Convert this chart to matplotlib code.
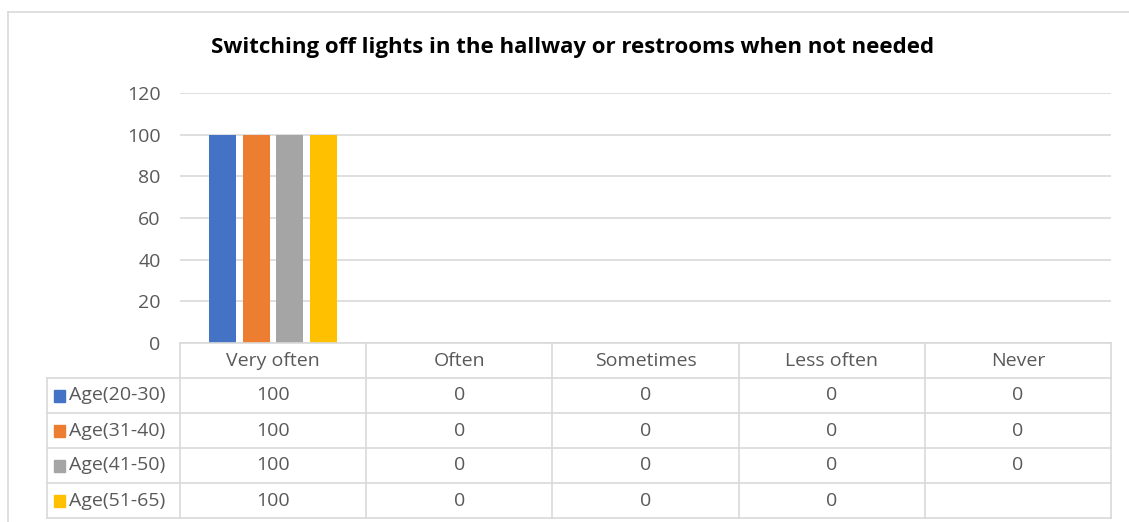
import matplotlib
matplotlib.use("Agg")
import matplotlib.pyplot as plt
import numpy as np

plt.rcParams['font.family'] = ['Open Sans', 'DejaVu Sans']

title = "Switching off lights in the hallway or restrooms when not needed"
categories = ["Very often", "Often", "Sometimes", "Less often", "Never"]
series_names = ["Age(20-30)", "Age(31-40)", "Age(41-50)", "Age(51-65)"]
values = [
    [100, 0, 0, 0, 0],
    [100, 0, 0, 0, 0],
    [100, 0, 0, 0, 0],
    [100, 0, 0, 0, None],
]
colors = ["#4472C4", "#ED7D31", "#A5A5A5", "#FFC000"]

W, H = 1129, 522
fig = plt.figure(figsize=(W / 100, H / 100), dpi=100)

# pixel layout
px_l, px_r, px_top, px_bot = 180, 1111, 93, 343
row_h = 35
lab_l = 47
txt = "#595959"
grid = "#D9D9D9"
fs = 14

ax = fig.add_axes([px_l / W, 1 - px_bot / H, (px_r - px_l) / W, (px_bot - px_top) / H])
n_cat = len(categories)
n_ser = len(series_names)
x = np.arange(n_cat)
bw = 0.145
step = 0.18
for i in range(n_ser):
    vals = [v if v is not None else 0 for v in values[i]]
    ax.bar(x + (i - (n_ser - 1) / 2) * step, vals, bw, color=colors[i], zorder=3)
ax.set_xlim(-0.5, n_cat - 0.5)
ax.set_ylim(0, 120)
ax.set_yticks(range(0, 121, 20))
ax.yaxis.grid(True, color=grid, lw=1.2)
ax.tick_params(axis='y', length=0, labelsize=fs, labelcolor=txt, pad=14)
ax.set_xticks([])
for s in ax.spines.values():
    s.set_visible(False)

# overlay for outer frame, in pixel coords
ov = fig.add_axes([0, 0, 1, 1], zorder=-1)
ov.set_xlim(0, W)
ov.set_ylim(H, 0)
ov.axis("off")
ov.plot([8, W], [12, 12], color="#D9D9D9", lw=1.2)
ov.plot([8, 8], [12, H], color="#D9D9D9", lw=1.2)

# data table
ax2 = fig.add_axes([0, 0, 1, 1])
ax2.set_xlim(0, W)
ax2.set_ylim(H, 0)
ax2.axis("off")

col_w = (px_r - px_l) / n_cat
n_rows = n_ser + 1
tbl_bot = px_bot + n_rows * row_h
lc = "#D9D9D9"
ax2.plot([px_l, px_r], [px_bot, px_bot], color=lc, lw=1.2)
for r in range(1, n_rows + 1):
    y = px_bot + r * row_h
    ax2.plot([lab_l, px_r], [y, y], color=lc, lw=1.2)
for c in range(n_cat + 1):
    xx = px_l + c * col_w
    ax2.plot([xx, xx], [px_bot, tbl_bot], color=lc, lw=1.2)
ax2.plot([lab_l, lab_l], [px_bot + row_h, tbl_bot], color=lc, lw=1.2)

for c, name in enumerate(categories):
    ax2.text(px_l + (c + 0.5) * col_w, px_bot + row_h / 2, name,
             ha="center", va="center", fontsize=fs, color=txt)
for i, name in enumerate(series_names):
    yc = px_bot + (i + 1.5) * row_h
    ax2.add_patch(plt.Rectangle((54, yc - 6), 11, 12, color=colors[i]))
    ax2.text(69, yc, name, ha="left", va="center", fontsize=fs, color=txt)
    for c in range(n_cat):
        v = values[i][c]
        if v is None:
            continue
        ax2.text(px_l + (c + 0.5) * col_w, yc, str(v),
                 ha="center", va="center", fontsize=fs, color=txt)

fig.text(573 / W, 1 - 47 / H, title, ha="center", va="center",
         fontsize=16, fontweight="bold", color="black")

fig.savefig("out.png", dpi=100)
